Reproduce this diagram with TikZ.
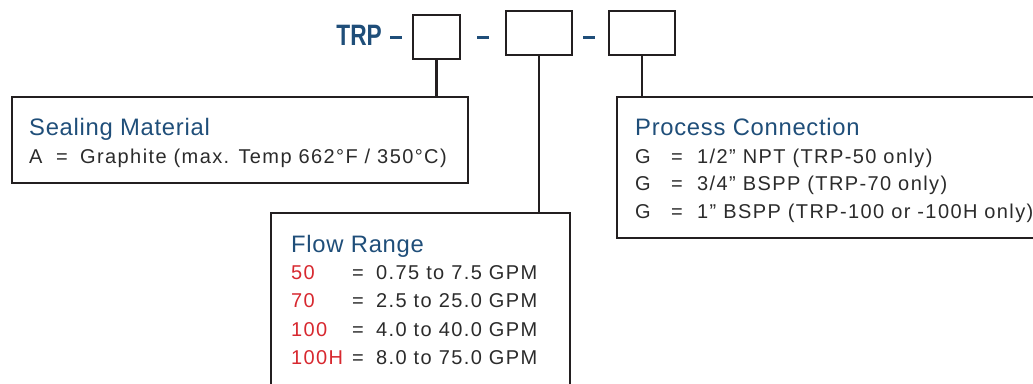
\documentclass[tikz,border=0pt]{standalone}
\usepackage{fontspec}
\usepackage{graphicx}
\setmainfont{Liberation Sans}[LetterSpace=7]
\newfontfamily\titlefont{Liberation Sans}[LetterSpace=3]
\newfontfamily\headfont{Liberation Sans}
\definecolor{hblue}{HTML}{1F4E79}
\definecolor{hred}{HTML}{D7282F}
\definecolor{htext}{HTML}{2B2B2B}
\definecolor{hline}{HTML}{231F20}
\tikzset{
  codebox/.style={draw=hline, line width=2.8pt, minimum width=#1, inner sep=0pt},
  infobox/.style={draw=hline, line width=2.8pt, inner sep=0pt},
  link/.style={draw=hline, line width=2.5pt},
  dashbar/.style={draw=hblue, line width=3pt},
  ttl/.style={anchor=base west, inner sep=0pt, text=hblue, font=\titlefont\fontsize{23.8}{28}\selectfont},
  body/.style={anchor=base west, inner sep=0pt, text=htext, font=\fontsize{20}{24}\selectfont},
  num/.style={anchor=base west, inner sep=0pt, text=hred, font=\fontsize{20}{24}\selectfont},
}
\begin{document}
\begin{tikzpicture}[x=1pt,y=-1pt]
\useasboundingbox (0,0) rectangle (1033,383);
% heading
\node[anchor=east, inner sep=0pt, text=hblue, font=\headfont\bfseries\fontsize{29.5}{30}\selectfont] (trp) at (382,35) {\scalebox{0.77}[1]{TRP}};
\node[codebox=47pt, minimum height=44pt] (b1) at (436.5,37) {};
\node[codebox=66pt, minimum height=44pt] (b2) at (539,33) {};
\node[codebox=66pt, minimum height=44pt] (b3) at (642,33) {};
\coordinate (d1a) at (390,37); \coordinate (d1b) at (402,37);
\coordinate (d2a) at (477,37); \coordinate (d2b) at (489,37);
\coordinate (d3a) at (583,37); \coordinate (d3b) at (595,37);
\draw[dashbar] (d1a) -- (d1b);
\draw[dashbar] (d2a) -- (d2b);
\draw[dashbar] (d3a) -- (d3b);
% boxes
\node[infobox, minimum width=456pt, minimum height=86pt] (seal) at (240,140) {};
\node[infobox, minimum width=480pt, minimum height=141pt] (proc) at (857,167.5) {};
\node[infobox, minimum width=299pt, minimum height=190pt] (flow) at (420.5,308) {};
% connectors
\draw[link] (b1.south) -- (b1.south |- seal.north);
\draw[link] (b2.south) -- (b2.south |- flow.north);
\draw[link] (b3.south) -- (b3.south |- proc.north);
% sealing material
\node[ttl] (st) at (29,135) {Sealing Material};
\node[body] (sa) at (29,163) {A};
\node[body] (se) at (56,163) {=};
\node[body] (sv) at (80,163) {Graphite (max. Temp 662°F / 350°C)};
% process connection
\node[ttl] (pt) at (635,135) {Process Connection};
\node[body] (pg1) at (635,163) {G};
\node[body] (pe1) at (671,163) {=};
\node[body] (pv1) at (697,163) {1/2” NPT (TRP-50 only)};
\node[body] (pg2) at (635,190.5) {G};
\node[body] (pe2) at (671,190.5) {=};
\node[body] (pv2) at (697,190.5) {3/4” BSPP (TRP-70 only)};
\node[body] (pg3) at (635,218) {G};
\node[body] (pe3) at (671,218) {=};
\node[body] (pv3) at (697,218) {1” BSPP (TRP-100 or -100H only)};
% flow range
\node[ttl] (ft) at (291,252) {Flow Range};
\node[num] (f1) at (291,279.5) {50};
\node[body] (fe1) at (352,279.5) {=};
\node[body] (fv1) at (376,279.5) {0.75 to 7.5 GPM};
\node[num] (f2) at (291,307.5) {70};
\node[body] (fe2) at (352,307.5) {=};
\node[body] (fv2) at (376,307.5) {2.5 to 25.0 GPM};
\node[num] (f3) at (291,336) {100};
\node[body] (fe3) at (352,336) {=};
\node[body] (fv3) at (376,336) {4.0 to 40.0 GPM};
\node[num] (f4) at (291,364) {100H};
\node[body] (fe4) at (352,364) {=};
\node[body] (fv4) at (376,364) {8.0 to 75.0 GPM};
\end{tikzpicture}
\end{document}
